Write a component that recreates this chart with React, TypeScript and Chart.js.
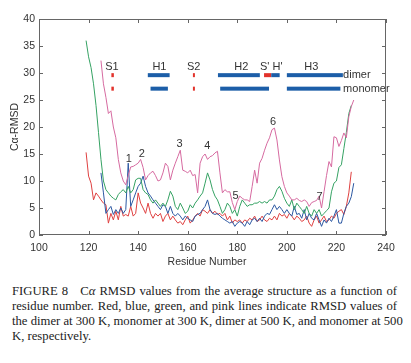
import React, { useEffect, useRef } from 'react';
import { Chart, registerables } from 'chart.js';

Chart.register(...registerables);

// ---- axes ----
const xTicks = [100, 120, 140, 160, 180, 200, 220, 240];
const yTicks = [0, 5, 10, 15, 20, 25, 30, 35, 40];

// ---- series (residue start + per-residue RMSD) ----
const redStart = 119; // dimer 300 K
const redValues = [
  15.3, 10.9, 9.6, 6.5, 7.8, 7.2, 6.5, 5.9, 5.6, 2.2,
  4.0, 2.8, 4.4, 2.8, 5.3, 3.5, 3.8, 3.5, 5.3, 3.5,
  4.0, 7.8, 5.9, 5.0, 4.0, 5.9, 4.0, 3.1, 4.0, 3.5,
  4.0, 2.5, 3.5, 4.0, 2.8, 3.5, 2.8, 2.2, 2.5, 1.9,
  2.8, 3.5, 2.2, 2.8, 3.5, 4.0, 3.5, 4.7, 4.4, 4.0,
  4.7, 4.0, 4.4, 3.8, 4.0, 3.5, 4.0, 2.8, 3.5, 2.2,
  2.8, 2.5, 2.8, 2.2, 2.8, 2.5, 3.1, 2.8, 3.5, 2.5,
  2.8, 3.5, 2.8, 2.5, 3.1, 2.8, 3.5, 2.8, 4.0, 3.5,
  3.8, 3.1, 4.0, 3.5, 2.8, 3.5, 3.1, 2.5, 2.8, 3.5,
  2.2, 1.6, 2.8, 3.5, 2.2, 2.8, 3.5, 2.5, 2.8, 3.5,
  3.1, 4.0, 4.4, 4.7, 3.8, 5.3, 7.8, 11.7,
];

const blueStart = 125; // monomer 300 K
const blueValues = [
  11.5, 7.8, 4.0, 4.7, 5.3, 3.8, 4.7, 4.0, 5.0, 4.0,
  4.7, 13.3, 5.3, 6.5, 7.8, 9.0, 9.6, 10.9, 9.0, 7.8,
  7.2, 6.5, 5.9, 5.3, 4.7, 5.6, 5.3, 4.0, 5.3, 4.0,
  3.5, 4.0, 3.5, 2.8, 3.5, 3.1, 2.8, 2.5, 3.5, 3.8,
  4.0, 4.7, 5.3, 6.5, 4.7, 4.0, 3.8, 4.0, 3.5, 3.1,
  2.8, 2.5, 2.2, 2.5, 1.6, 2.2, 2.5, 2.2, 1.6, 2.5,
  1.9, 2.8, 3.1, 2.5, 3.1, 2.5, 3.5, 4.0, 3.8, 4.7,
  5.6, 4.7, 5.3, 4.7, 4.0, 4.7, 4.0, 3.5, 5.3, 3.8,
  4.0, 3.1, 4.7, 2.8, 4.0, 3.1, 2.8, 4.0, 2.8, 1.6,
  2.8, 2.2, 3.1, 2.5, 3.5, 4.7, 2.2, 2.2, 4.0, 5.3,
  5.9, 7.1, 9.6,
];

const greenStart = 119; // dimer 500 K
const greenValues = [
  36.0, 33.0, 31.0, 28.0, 24.0, 19.0, 14.0, 10.0, 8.4, 7.8,
  7.2, 6.8, 6.5, 7.5, 8.0, 8.4, 7.8, 9.0, 7.8, 8.4,
  10.2, 10.5, 10.5, 8.4, 7.8, 7.5, 6.5, 5.9, 6.5, 5.9,
  5.3, 5.9, 5.3, 6.5, 8.1, 7.2, 5.3, 4.7, 5.9, 5.0,
  4.0, 4.4, 5.6, 5.0, 5.9, 6.5, 7.2, 7.8, 9.6, 11.5,
  10.2, 8.4, 7.2, 6.5, 5.3, 4.0, 4.7, 5.9, 5.3, 4.0,
  4.7, 3.5, 5.3, 6.5, 5.9, 5.3, 5.6, 5.6, 5.9, 5.9,
  6.2, 5.9, 6.2, 5.9, 6.5, 6.5, 7.2, 8.4, 9.0, 8.1,
  6.8, 5.9, 5.3, 6.5, 4.7, 5.9, 5.3, 4.7, 4.0, 5.3,
  4.0, 3.5, 4.7, 4.0, 4.7, 3.5, 4.0, 4.5, 5.0, 8.0,
  9.6, 10.0, 12.5, 13.0, 16.0, 19.0, 22.5, 24.0,
];

const pinkStart = 125; // monomer 500 K
const pinkValues = [
  32.3, 28.0, 25.5, 22.5, 23.0, 20.0, 18.0, 14.0, 11.5, 10.0,
  9.3, 11.0, 12.6, 12.7, 13.0, 13.3, 14.0, 12.5, 10.2, 11.0,
  11.5, 11.8, 11.0, 10.0, 10.2, 11.5, 13.3, 12.7, 10.2, 12.0,
  13.3, 14.5, 15.7, 12.0, 11.8, 11.5, 12.0, 11.0, 11.2, 7.8,
  13.3, 14.5, 15.0, 14.0, 14.5, 14.7, 15.2, 15.5, 11.5, 7.8,
  8.4, 8.0, 8.0, 6.0, 4.7, 6.2, 7.2, 6.8, 6.5, 6.5,
  6.2, 9.0, 12.0, 9.6, 13.3, 14.2, 15.7, 17.0, 18.0, 19.5,
  19.8, 17.6, 13.9, 10.8, 9.0, 7.8, 7.2, 6.5, 6.5, 6.8,
  6.4, 6.2, 6.5, 6.2, 5.3, 6.0, 6.2, 6.4, 7.2, 5.0,
  8.0, 11.0, 13.6, 12.6, 18.2, 18.0, 16.4, 17.5, 18.9, 18.0,
  21.9, 23.8, 25.0,
];

// ---- secondary-structure annotation ----
const dimerLevel = 29.6;
const monomerLevel = 27.1;
const dimerSegFrom = [129.2, 143.9, 162.1, 172.2, 190.8, 193.7, 200.0];
const dimerSegTo = [130.2, 152.7, 162.9, 189.1, 193.7, 197.1, 222.6];
const dimerSegKind = ['strand', 'helix', 'strand', 'helix', 'strand', 'helix', 'helix'];
const monomerSegFrom = [129.2, 145.0, 162.1, 173.1, 200.0];
const monomerSegTo = [130.2, 152.0, 162.9, 192.8, 221.6];
const monomerSegKind = ['strand', 'helix', 'strand', 'helix', 'helix'];
const structLabels = ['S1', 'H1', 'S2', 'H2', "S' H'", 'H3'];
const structLabelX = [129.4, 148.6, 162.4, 181.6, 193.7, 209.9];
const structLabelY = 31.1;
const rowLabels = ['dimer', 'monomer'];
const rowLabelX = 222.7;

// ---- numbered peaks ----
const peakLabels = ['1', '2', '3', '4', '5', '6', '7'];
const peakX = [136.2, 141.5, 156.7, 167.9, 179.3, 194.4, 213.2];
const peakY = [14.1, 15.0, 16.9, 16.4, 7.2, 20.9, 7.1];

const toPoints = (start: number, vals: number[]) => vals.map((v, i) => ({ x: start + i, y: v }));

const HELIX = '#1c5ea8';
const STRAND = '#e2322b';
const TEXT = '#333333';
const FONT = '"Liberation Sans", Arial, sans-serif';

const overlay = {
  id: 'overlay',
  afterDatasetsDraw(chart: any) {
    const { ctx, chartArea: a, scales } = chart;
    const x = scales.x;
    const y = scales.y;
    ctx.save();
    // structure bars
    const row = (from: number[], to: number[], kind: string[], level: number) => {
      const py = y.getPixelForValue(level);
      from.forEach((f, i) => {
        const x0 = x.getPixelForValue(f);
        const x1 = x.getPixelForValue(to[i]);
        ctx.fillStyle = kind[i] === 'helix' ? HELIX : STRAND;
        ctx.fillRect(x0, py - 2, x1 - x0, 4);
      });
    };
    row(dimerSegFrom, dimerSegTo, dimerSegKind, dimerLevel);
    row(monomerSegFrom, monomerSegTo, monomerSegKind, monomerLevel);

    ctx.fillStyle = TEXT;
    ctx.font = `11px ${FONT}`;
    ctx.textBaseline = 'middle';
    ctx.textAlign = 'center';
    structLabels.forEach((t, i) => {
      ctx.fillText(t, x.getPixelForValue(structLabelX[i]), y.getPixelForValue(structLabelY));
    });
    peakLabels.forEach((t, i) => {
      ctx.fillText(t, x.getPixelForValue(peakX[i]), y.getPixelForValue(peakY[i]));
    });
    ctx.textAlign = 'left';
    ctx.fillText(rowLabels[0], x.getPixelForValue(rowLabelX), y.getPixelForValue(dimerLevel));
    ctx.fillText(rowLabels[1], x.getPixelForValue(rowLabelX), y.getPixelForValue(monomerLevel));

    // frame
    ctx.strokeStyle = '#666666';
    ctx.lineWidth = 1;
    ctx.strokeRect(a.left + 0.5, a.top + 0.5, a.right - a.left - 1, a.bottom - a.top - 1);
    ctx.beginPath();
    xTicks.forEach((v) => {
      const px = Math.round(x.getPixelForValue(v)) + 0.5;
      ctx.moveTo(px, a.bottom);
      ctx.lineTo(px, a.bottom - 4);
      ctx.moveTo(px, a.top);
      ctx.lineTo(px, a.top + 4);
    });
    yTicks.forEach((v) => {
      const py = Math.round(y.getPixelForValue(v)) + 0.5;
      ctx.moveTo(a.left, py);
      ctx.lineTo(a.left + 4, py);
      ctx.moveTo(a.right, py);
      ctx.lineTo(a.right - 4, py);
    });
    ctx.stroke();

    // axis titles
    ctx.fillStyle = TEXT;
    ctx.font = `10.5px ${FONT}`;
    ctx.textAlign = 'center';
    ctx.textBaseline = 'middle';
    ctx.fillText('Residue Number', 207, 262);
    ctx.save();
    ctx.translate(15, (a.top + a.bottom) / 2);
    ctx.rotate(-Math.PI / 2);
    ctx.fillText('C\u03b1-RMSD', 0, 0);
    ctx.restore();
    ctx.restore();
  },
};

export default function App() {
  const ref = useRef<HTMLCanvasElement | null>(null);
  useEffect(() => {
    if (!ref.current) return;
    const line = (label: string, color: string, start: number, vals: number[]) => ({
      label,
      data: toPoints(start, vals),
      borderColor: color,
      backgroundColor: color,
      borderWidth: 1,
      pointRadius: 0,
      tension: 0,
      fill: false,
    });
    const chart = new Chart(ref.current, {
      type: 'line',
      data: {
        datasets: [
          line('monomer 500 K', '#d66aa0', pinkStart, pinkValues),
          line('dimer 500 K', '#35a263', greenStart, greenValues),
          line('monomer 300 K', '#2c58a2', blueStart, blueValues),
          line('dimer 300 K', '#df4040', redStart, redValues),
        ],
      },
      options: {
        animation: false,
        responsive: false,
        events: [],
        layout: { padding: { top: 19, right: 25, left: 0, bottom: 0 } },
        plugins: { legend: { display: false }, tooltip: { enabled: false } },
        scales: {
          x: {
            type: 'linear',
            min: 100,
            max: 240,
            afterBuildTicks: (s: any) => {
              s.ticks = xTicks.map((v) => ({ value: v }));
            },
            afterFit: (s: any) => {
              s.height = 35;
            },
            grid: { display: false, drawTicks: false },
            border: { display: false },
            ticks: { color: TEXT, padding: 7, maxRotation: 0, font: { family: FONT, size: 10.5 } },
          },
          y: {
            type: 'linear',
            min: 0,
            max: 40,
            afterBuildTicks: (s: any) => {
              s.ticks = yTicks.map((v) => ({ value: v }));
            },
            afterFit: (s: any) => {
              s.width = 39;
            },
            grid: { display: false, drawTicks: false },
            border: { display: false },
            ticks: { color: TEXT, padding: 4, font: { family: FONT, size: 10.5 } },
          },
        },
      },
      plugins: [overlay],
    });
    return () => chart.destroy();
  }, []);

  const lineStyle: React.CSSProperties = {
    height: 15,
    lineHeight: '15px',
    whiteSpace: 'nowrap',
    textAlign: 'justify',
    textAlignLast: 'justify',
  };
  return (
    <div style={{ position: 'absolute', left: 0, top: 0, width: 411, height: 363, background: '#fff' }}>
      <canvas ref={ref} width={411} height={270} style={{ display: 'block' }} />
      <div
        style={{
          position: 'absolute',
          left: 12,
          top: 284,
          width: 385,
          fontFamily: '"Liberation Serif", "Times New Roman", serif',
          fontSize: 12.7,
          color: '#222',
        }}
      >
        <div style={lineStyle}>
          FIGURE 8&nbsp;&nbsp; C<i>α</i> RMSD values from the average structure as a function of
        </div>
        <div style={lineStyle}>residue number. Red, blue, green, and pink lines indicate RMSD values of</div>
        <div style={lineStyle}>the dimer at 300 K, monomer at 300 K, dimer at 500 K, and monomer at 500</div>
        <div style={{ ...lineStyle, textAlignLast: 'left' }}>K, respectively.</div>
      </div>
    </div>
  );
}
